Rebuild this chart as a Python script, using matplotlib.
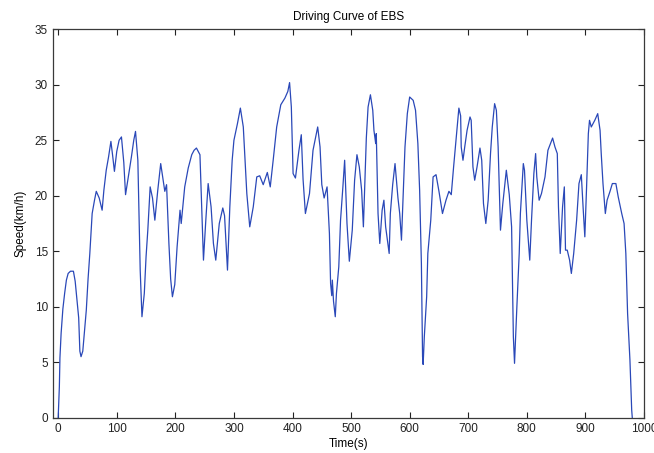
import matplotlib
matplotlib.use("Agg")
import matplotlib.pyplot as plt

# Time (s) and speed (km/h)
time_s = [0, 2, 3, 5, 8, 11, 14, 17, 21, 26, 29, 31, 35, 37, 39, 42, 45, 48, 51, 54,
          58, 62, 65, 70, 75, 78, 82, 86, 90, 93, 96, 100, 104, 108, 112, 115, 120, 125, 129, 132,
          136, 140, 143, 147, 150, 153, 157, 161, 165, 170, 175, 178, 182, 185, 189, 192, 195, 199, 203, 208,
          210, 216, 222, 228, 232, 236, 242, 245, 248, 252, 256, 261, 265, 269, 275, 281, 284, 289, 293, 297,
          300, 306, 311, 316, 322, 327, 333, 339, 344, 350, 357, 362, 367, 373, 380, 387, 392, 395, 398, 401,
          405, 411, 415, 418, 422, 429, 435, 443, 447, 450, 454, 459, 463, 465, 467, 468, 470, 473, 475, 479,
          482, 486, 489, 493, 497, 502, 506, 510, 514, 518, 521, 523, 526, 529, 533, 537, 539, 542, 543, 546,
          549, 553, 556, 559, 562, 565, 567, 571, 575, 577, 580, 583, 586, 589, 592, 596, 600, 606, 610, 614,
          617, 620, 622, 623, 625, 629, 631, 636, 640, 645, 650, 656, 662, 667, 671, 675, 680, 684, 687, 688,
          691, 694, 698, 703, 705, 708, 711, 715, 720, 723, 726, 730, 734, 738, 741, 745, 748, 751, 754, 755,
          759, 765, 770, 774, 777, 779, 783, 787, 789, 794, 796, 800, 805, 808, 812, 815, 817, 821, 825, 831,
          836, 844, 848, 852, 854, 857, 861, 864, 866, 869, 873, 876, 880, 885, 889, 893, 896, 899, 902, 905,
          907, 910, 913, 916, 921, 925, 927, 930, 934, 937, 942, 946, 952, 956, 962, 966, 969, 972, 976, 979,
          980]
speed_kmh = [0.0, 2.8, 5.4, 7.6, 9.8, 11.2, 12.4, 13.0, 13.2, 13.2, 12.3, 11.2, 9.0, 6.0, 5.5, 6.0, 7.8, 9.7, 12.5, 14.8,
             18.4, 19.6, 20.4, 19.8, 18.7, 20.5, 22.3, 23.5, 24.9, 23.6, 22.2, 24.0, 25.0, 25.3, 23.0, 20.1, 21.8, 23.5, 25.0, 25.8,
             23.2, 13.3, 9.1, 11.2, 14.5, 16.9, 20.8, 19.8, 17.8, 20.5, 22.9, 21.8, 20.4, 21.0, 15.7, 12.5, 10.9, 12.0, 15.4, 18.7,
             17.5, 20.8, 22.5, 23.7, 24.1, 24.3, 23.7, 19.0, 14.2, 17.8, 21.1, 19.0, 15.7, 14.2, 17.5, 18.9, 18.2, 13.3, 19.0, 23.2,
             25.0, 26.5, 27.9, 26.2, 20.2, 17.2, 19.0, 21.7, 21.8, 21.0, 22.1, 20.8, 23.2, 26.2, 28.2, 28.8, 29.4, 30.2, 28.0, 22.0,
             21.6, 24.1, 25.5, 21.5, 18.4, 20.2, 24.1, 26.2, 24.4, 21.0, 19.8, 20.8, 16.6, 12.1, 11.0, 12.4, 10.5, 9.1, 11.2, 13.6,
             17.8, 20.8, 23.2, 17.5, 14.1, 16.9, 21.4, 23.7, 22.6, 20.5, 17.2, 20.5, 25.2, 28.0, 29.1, 27.7, 25.9, 24.7, 25.6, 18.4,
             15.7, 18.7, 19.6, 17.2, 16.0, 14.8, 18.4, 21.0, 22.9, 21.7, 19.8, 18.4, 16.0, 20.2, 24.4, 27.4, 28.9, 28.6, 27.7, 24.7,
             20.5, 13.9, 5.5, 4.8, 7.3, 10.9, 14.8, 17.8, 21.7, 21.9, 20.4, 18.4, 19.6, 20.4, 20.1, 22.6, 25.6, 27.9, 27.2, 24.4,
             23.2, 24.4, 25.9, 27.1, 26.8, 22.6, 21.4, 22.6, 24.3, 23.2, 19.3, 17.5, 19.6, 23.8, 26.2, 28.3, 27.7, 24.4, 19.0, 16.9,
             19.3, 22.3, 20.1, 17.2, 7.3, 4.9, 10.0, 14.8, 18.4, 22.9, 22.3, 17.8, 14.2, 17.8, 22.0, 23.8, 21.7, 19.6, 20.2, 21.7,
             24.1, 25.2, 24.4, 23.8, 19.0, 14.8, 19.0, 20.8, 15.1, 15.1, 14.2, 13.0, 14.8, 17.8, 21.1, 21.9, 19.0, 16.3, 20.8, 25.6,
             26.8, 26.2, 26.5, 26.8, 27.4, 25.9, 23.8, 21.1, 18.4, 19.6, 20.4, 21.1, 21.1, 19.9, 18.4, 17.5, 14.8, 9.4, 5.2, 0.7,
             0.0]

x_ticks = list(range(0, 1001, 100))
y_ticks = list(range(0, 36, 5))

plt.rcParams['font.family'] = ['Liberation Sans', 'DejaVu Sans']

fig = plt.figure(figsize=(6.54, 4.53), dpi=100)
ax = fig.add_axes([0.0818, 0.0779, 0.9029, 0.8574])
ax.plot(time_s, speed_kmh, color='#2a48b8', linewidth=0.9)

ax.set_xlim(-8, 1000)
ax.set_ylim(0, 35)
ax.set_xticks(x_ticks)
ax.set_yticks(y_ticks)
ax.tick_params(direction='in', length=4, width=0.8, top=True, right=True,
               labelsize=8.5, colors='#222222', pad=4)
for s in ax.spines.values():
    s.set_color('#3a3a3a')
    s.set_linewidth(0.9)

ax.set_title('Driving Curve of EBS', fontsize=8.5, pad=7)
ax.set_xlabel('Time(s)', fontsize=8.5, labelpad=2)
ax.set_ylabel('Speed(km/h)', fontsize=8.5, labelpad=6)

fig.savefig('out.png', dpi=100)
